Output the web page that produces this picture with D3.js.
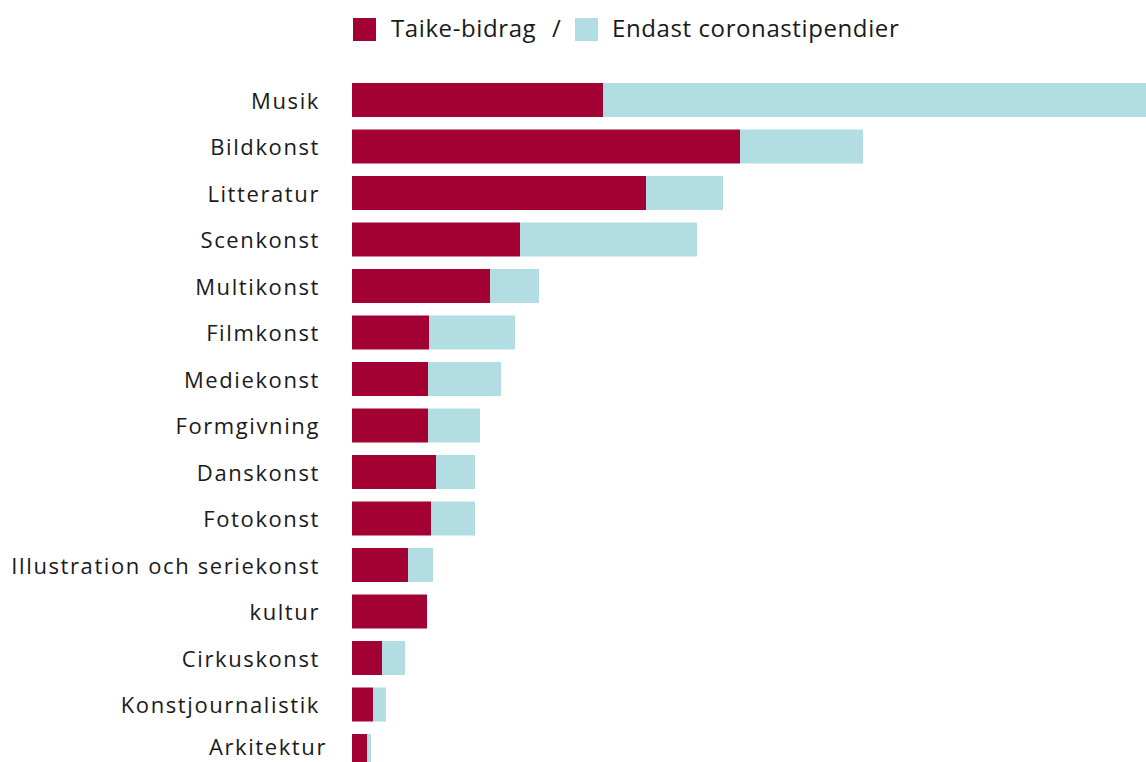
<!DOCTYPE html>
<html><head><meta charset="utf-8">
<script src="https://cdn.jsdelivr.net/npm/d3@7"></script>
<style>html,body{margin:0;padding:0;background:#fff;overflow:hidden}svg{display:block}</style>
</head><body>
<script>
const categories = ["Musik","Bildkonst","Litteratur","Scenkonst","Multikonst","Filmkonst","Mediekonst","Formgivning","Danskonst","Fotokonst","Illustration och seriekonst","kultur","Cirkuskonst","Konstjournalistik","Arkitektur"];
const taike = [251,388,294,168,138,77,76,76,84,79,56,75,30,21,15];
const corona = [543,123,77,177,49,86,73,52,39,44,25,0,23,13,4];
const seriesNames = ["Taike-bidrag","Endast coronastipendier"];
const colors = ["#a30033","#b2dde3"];

const W = 1146, H = 762;
const svg = d3.select("body").append("svg").attr("width",W).attr("height",H);
const font = "'Open Sans', 'Noto Sans', sans-serif";

const data = categories.map((c,i)=>({cat:c, taike:taike[i], corona:corona[i]}));
const stack = d3.stack().keys(["taike","corona"])(data);

const x = d3.scaleLinear().domain([0, 794]).range([352, 1146]);
const y = d3.scaleBand().domain(categories).range([83, 768]).paddingInner(0.269).paddingOuter(0);

svg.selectAll("g.series").data(stack).join("g").attr("class","series")
  .attr("fill",(d,i)=>colors[i])
  .selectAll("rect").data(d=>d).join("rect")
  .attr("x",d=>x(d[0])).attr("width",d=>Math.max(0,x(d[1])-x(d[0])))
  .attr("y",d=>y(d.data.cat)).attr("height",y.bandwidth());

const yAxis = d3.axisLeft(y).tickSize(0).tickPadding(0);
const ga = svg.append("g").attr("transform","translate(320,0)").call(yAxis);
ga.select(".domain").remove();
ga.selectAll("text").attr("font-family",font).attr("font-size",22).attr("fill","#1a1a1a")
  .attr("letter-spacing","1.6px").attr("dy","0.39em");
// last label sits slightly higher and further right in the original
ga.selectAll(".tick").filter(d=>d===categories[categories.length-1]).select("text")
  .attr("x",7).attr("dy","0.18em");

// legend
const lg = svg.append("g").attr("font-family",font).attr("font-size",24).attr("fill","#1a1a1a").attr("letter-spacing","0.6px");
lg.append("rect").attr("x",353).attr("y",18).attr("width",23).attr("height",23).attr("fill",colors[0]);
lg.append("text").attr("x",391).attr("y",36.5).text(seriesNames[0]);
lg.append("text").attr("x",552).attr("y",36.5).text("/");
lg.append("rect").attr("x",575).attr("y",18).attr("width",23).attr("height",23).attr("fill",colors[1]);
lg.append("text").attr("x",612).attr("y",36.5).text(seriesNames[1]);
</script>
</body></html>
